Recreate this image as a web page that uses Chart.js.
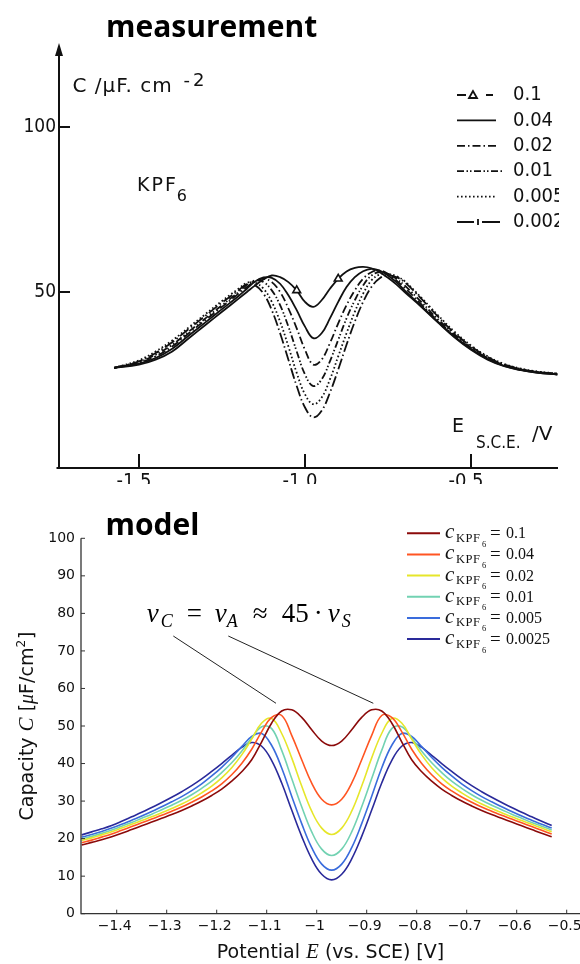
<!DOCTYPE html>
<html lang="en">
<head>
<meta charset="UTF-8">
<title>KPF6 capacity: measurement and model</title>
<script src="https://cdn.jsdelivr.net/npm/chart.js"></script>
<style>
  html, body { margin: 0; padding: 0; background: #fff; }
  canvas { display: block; }
</style>
</head>
<body>
<canvas id="measChart" width="580" height="484"></canvas>
<canvas id="modelChart" width="580" height="480"></canvas>

<script>
// ---------- measurement (scanned plot) ----------
const measPotential = [-1.575, -1.5, -1.45, -1.4, -1.35, -1.3, -1.25, -1.2, -1.175, -1.15, -1.125, -1.1, -1.075,
  -1.05, -1.025, -1.0, -0.975, -0.95, -0.925, -0.9, -0.875, -0.85, -0.825, -0.8, -0.775, -0.75, -0.725, -0.7,
  -0.65, -0.6, -0.55, -0.5, -0.45, -0.4, -0.35, -0.3, -0.24];
const meas01 = [27, 28, 29.5, 32, 36, 40, 44, 48, 50, 52, 53.8, 55, 54.5, 53, 50.5, 47, 45.5, 47.5, 51, 54, 56.2,
  57.3, 57.6, 57.2, 56, 54.3, 52.3, 50, 45.5, 40.8, 36.3, 32.5, 29.5, 27.5, 26.3, 25.5, 25];
const meas004 = [27, 28.3, 30, 32.8, 36.8, 40.8, 44.8, 48.8, 51, 53.2, 54.4, 54.3, 52.5, 49, 44.5, 39.5, 36, 37.5,
  42, 47, 51.5, 54.5, 56.3, 57, 56.5, 55, 53, 50.5, 45.8, 41, 36.5, 32.7, 29.7, 27.6, 26.4, 25.6, 25];
const meas002 = [27, 28.6, 30.5, 33.5, 37.5, 41.5, 45.5, 49.5, 51.5, 53.3, 54, 53, 50, 45, 39, 32.5, 28, 29.5,
  34.5, 40.5, 46, 50.5, 54, 56, 56.5, 55.5, 53.5, 51.3, 46.3, 41.3, 36.8, 32.9, 29.9, 27.8, 26.5, 25.7, 25.1];
const meas001 = [27, 28.8, 31, 34, 38, 42, 46, 50, 52.2, 53.5, 53, 50.5, 46, 39.5, 32, 25, 21.5, 23.5, 29, 35.5,
  42, 47.5, 52, 55, 56, 55.5, 54, 52, 47, 41.8, 37.2, 33.1, 30, 27.9, 26.6, 25.8, 25.2];
const meas0005 = [27, 29.3, 32, 35.3, 39.3, 43.3, 47.3, 51, 52.8, 52.8, 51, 47, 41, 33.5, 25.5, 19, 16, 18, 23.5,
  30.5, 37.5, 44, 49.5, 53.5, 55.3, 55.5, 54.8, 53.3, 48.3, 43, 38, 33.8, 30.5, 28.2, 26.8, 25.9, 25.3];
const meas0002 = [27, 29, 31.5, 34.8, 38.8, 42.8, 46.8, 50.5, 52.4, 52, 49.5, 44.5, 37.5, 29.5, 21.5, 15, 12, 14,
  19.5, 26.5, 34, 41, 47, 51.5, 54.2, 55, 54.5, 53, 48, 42.6, 37.6, 33.5, 30.3, 28, 26.7, 25.8, 25.2];
const measLabels = ['0.1', '0.04', '0.02', '0.01', '0.005', '0.002'];
const measTriangleAt = [-1.025, -0.9];   // where the 0.1 curve carries its triangle markers
const measXTicks = [-1.5, -1.0, -0.5];
const measXTickLabels = ['-1.5', '-1.0', '-0.5'];
const measYTicks = [50, 100];

// ---------- model ----------
const modelPotential = [-1.47, -1.45, -1.43, -1.41, -1.39, -1.37, -1.35, -1.33, -1.31, -1.29, -1.27, -1.25, -1.23,
  -1.21, -1.19, -1.17, -1.15, -1.13, -1.11, -1.09, -1.07, -1.05, -1.03, -1.01, -0.99, -0.97, -0.95, -0.93, -0.91,
  -0.89, -0.87, -0.85, -0.83, -0.81, -0.79, -0.77, -0.75, -0.73, -0.71, -0.69, -0.67, -0.65, -0.63, -0.61, -0.59,
  -0.57, -0.55, -0.53];
const model01 = [18.3, 19.0, 19.7, 20.5, 21.4, 22.4, 23.4, 24.4, 25.4, 26.4, 27.5, 28.7, 30.0, 31.5, 33.2, 35.3,
  37.8, 41.0, 45.8, 50.8, 54.0, 54.3, 52.3, 49.0, 46.0, 44.8, 46.0, 49.0, 52.3, 54.3, 54.0, 50.8, 45.8, 41.0, 37.8,
  35.3, 33.2, 31.5, 30.0, 28.7, 27.5, 26.4, 25.4, 24.4, 23.4, 22.4, 21.4, 20.5];
const model004 = [18.9, 19.6, 20.4, 21.2, 22.2, 23.2, 24.2, 25.2, 26.2, 27.3, 28.4, 29.7, 31.1, 32.7, 34.6, 37.0,
  40.0, 43.8, 48.5, 52.3, 52.8, 47.5, 41.0, 34.8, 30.5, 29.0, 30.5, 34.8, 41.0, 47.5, 52.8, 52.3, 48.5, 43.8, 40.0,
  37.0, 34.6, 32.7, 31.1, 29.7, 28.4, 27.3, 26.2, 25.2, 24.2, 23.2, 22.2, 21.2];
const model002 = [19.5, 20.2, 21.0, 21.8, 22.8, 23.8, 24.8, 25.8, 26.9, 28.0, 29.2, 30.6, 32.2, 34.0, 36.2, 38.9,
  42.3, 46.5, 50.8, 52.0, 48.0, 41.5, 34.0, 27.3, 22.8, 21.1, 22.8, 27.3, 34.0, 41.5, 48.0, 52.0, 50.8, 46.5, 42.3,
  38.9, 36.2, 34.0, 32.2, 30.6, 29.2, 28.0, 26.9, 25.8, 24.8, 23.8, 22.8, 21.8];
const model001 = [19.9, 20.6, 21.4, 22.3, 23.3, 24.3, 25.4, 26.5, 27.7, 28.9, 30.2, 31.7, 33.4, 35.3, 37.6, 40.2,
  43.3, 46.8, 49.8, 49.3, 43.5, 36.0, 28.5, 21.8, 17.2, 15.5, 17.2, 21.8, 28.5, 36.0, 43.5, 49.3, 49.8, 46.8, 43.3,
  40.2, 37.6, 35.3, 33.4, 31.7, 30.2, 28.9, 27.7, 26.5, 25.4, 24.3, 23.3, 22.3];
const model0005 = [20.4, 21.1, 21.9, 22.8, 23.8, 24.9, 26.0, 27.2, 28.5, 29.8, 31.2, 32.8, 34.6, 36.7, 39.0, 41.6,
  44.5, 47.2, 48.0, 44.8, 38.8, 31.3, 24.0, 17.6, 13.2, 11.6, 13.2, 17.6, 24.0, 31.3, 38.8, 44.8, 48.0, 47.2, 44.5,
  41.6, 39.0, 36.7, 34.6, 32.8, 31.2, 29.8, 28.5, 27.2, 26.0, 24.9, 23.8, 22.8];
const model00025 = [21.0, 21.8, 22.6, 23.5, 24.6, 25.8, 27.0, 28.3, 29.6, 31.0, 32.5, 34.1, 35.9, 37.9, 40.0, 42.2,
  44.3, 45.6, 44.6, 40.8, 34.8, 27.6, 20.6, 14.6, 10.5, 9.0, 10.5, 14.6, 20.6, 27.6, 34.8, 40.8, 44.6, 45.6, 44.3,
  42.2, 40.0, 37.9, 35.9, 34.1, 32.5, 31.0, 29.6, 28.3, 27.0, 25.8, 24.6, 23.5];
const modelLabels = ['0.1', '0.04', '0.02', '0.01', '0.005', '0.0025'];
const modelColors = ['#8b0a0a', '#ff5522', '#e6e62a', '#72d2b2', '#3a6cdc', '#2a2a9a'];
const modelXTicks = [-1.4, -1.3, -1.2, -1.1, -1.0, -0.9, -0.8, -0.7, -0.6, -0.5];
const modelXTickLabels = ['−1.4', '−1.3', '−1.2', '−1.1', '−1', '−0.9', '−0.8', '−0.7', '−0.6', '−0.5'];
const modelYTicks = [0, 10, 20, 30, 40, 50, 60, 70, 80, 90, 100];
// annotation: text anchor and the two pointer lines, in data units
const noteAnchor = [-1.34, 77.8];
const notePointers = [[[-1.2868, 73.97], [-1.0814, 56.05]], [[-1.1768, 73.97], [-0.8868, 56.05]]];

const SANS_N = "'Liberation Sans Narrow', 'DejaVu Sans Condensed', 'Liberation Sans', sans-serif";
const SANS = "'DejaVu Sans', sans-serif";
const SERIF = "'Liberation Serif', 'DejaVu Serif', serif";

function drawRun(ctx, x, y, pieces) {
  let cx = x;
  pieces.forEach(p => {
    ctx.font = p.f;
    ctx.fillText(p.t, cx + (p.dx || 0), y + (p.dy || 0));
    cx += ctx.measureText(p.t).width + (p.dx || 0);
  });
  return cx;
}
function runWidth(ctx, pieces) {
  let w = 0;
  pieces.forEach(p => { ctx.font = p.f; w += ctx.measureText(p.t).width + (p.dx || 0); });
  return w;
}

// ---------- measurement chart ----------
const measSeries = [meas01, meas004, meas002, meas001, meas0005, meas0002];
const measDash = [[], [], [8, 3, 1.5, 3], [7, 2.5, 1.5, 2, 1.5, 2.5], [1.6, 2.4], [11, 3, 1.5, 3]];

const measDecor = {
  id: 'measDecor',
  afterDraw(chart) {
    const { ctx, chartArea: a, scales: { x, y } } = chart;
    const ink = '#111';
    ctx.save();
    ctx.beginPath();
    ctx.rect(0, 0, a.right + 1, chart.height);
    ctx.clip();
    ctx.strokeStyle = ink;
    ctx.fillStyle = ink;
    ctx.lineWidth = 2;
    const ax = a.left + 1.5;

    // axes
    ctx.beginPath();
    ctx.moveTo(ax, a.bottom);
    ctx.lineTo(ax, a.top + 10);
    ctx.moveTo(a.left - 1, a.bottom);
    ctx.lineTo(a.right, a.bottom);
    ctx.stroke();
    ctx.beginPath();
    ctx.moveTo(ax, a.top);
    ctx.lineTo(ax - 4, a.top + 13);
    ctx.lineTo(ax + 4, a.top + 13);
    ctx.closePath();
    ctx.fill();

    // y ticks
    ctx.font = '19px ' + SANS_N;
    ctx.textAlign = 'right';
    ctx.textBaseline = 'middle';
    measYTicks.forEach(v => {
      const py = y.getPixelForValue(v);
      ctx.beginPath();
      ctx.moveTo(ax, py);
      ctx.lineTo(ax + 11, py);
      ctx.stroke();
      ctx.fillText(String(v), ax - 3, py);
    });

    // x ticks
    ctx.textAlign = 'center';
    ctx.textBaseline = 'top';
    ctx.font = '20px ' + SANS_N;
    measXTicks.forEach((v, i) => {
      const px = x.getPixelForValue(v);
      ctx.beginPath();
      ctx.moveTo(px, a.bottom);
      ctx.lineTo(px, a.bottom - 14);
      ctx.stroke();
      ctx.fillText(measXTickLabels[i], px - 5, a.bottom + 4);
    });

    // axis names
    ctx.textAlign = 'left';
    ctx.textBaseline = 'alphabetic';
    ctx.letterSpacing = '1px';
    ctx.font = '20px ' + SANS;
    ctx.fillText('C /μF. cm', a.left + 15, 92);
    ctx.letterSpacing = '3px';
    ctx.font = '18px ' + SANS;
    ctx.fillText('-2', a.left + 126, 86);
    ctx.letterSpacing = '0px';
    ctx.font = '19px ' + SANS;
    ctx.fillText('E', 452, 432);
    ctx.font = '17px ' + SANS_N;
    ctx.fillText('S.C.E.', 476, 448);
    ctx.font = '20px ' + SANS;
    ctx.fillText('/V', 532, 440);

    // salt label
    ctx.letterSpacing = '2px';
    ctx.font = '19px ' + SANS;
    ctx.fillText('KPF', 137, 191);
    const kw = ctx.measureText('KPF').width;
    ctx.letterSpacing = '0px';
    ctx.font = '16px ' + SANS;
    ctx.fillText('6', 137 + kw - 1, 201);

    // legend
    ctx.lineWidth = 1.8;
    ctx.font = '20px ' + SANS_N;
    ctx.textBaseline = 'middle';
    measLabels.forEach((lab, i) => {
      const ry = 95 + i * 25.4;
      const x0 = 457, x1 = 496;
      ctx.beginPath();
      if (i === 0) {
        ctx.setLineDash([]);
        ctx.moveTo(x0, ry); ctx.lineTo(x0 + 9, ry);
        ctx.moveTo(x1 - 10, ry); ctx.lineTo(x1 - 3, ry);
        ctx.stroke();
        ctx.beginPath();
        ctx.moveTo(x0 + 16, ry - 4); ctx.lineTo(x0 + 12, ry + 3); ctx.lineTo(x0 + 20, ry + 3); ctx.closePath();
        ctx.stroke();
      } else if (i === 5) {
        ctx.setLineDash([]);
        ctx.moveTo(x0, ry); ctx.lineTo(x0 + 17, ry);
        ctx.moveTo(x0 + 25, ry); ctx.lineTo(x1 + 4, ry);
        ctx.moveTo(x0 + 21, ry - 3); ctx.lineTo(x0 + 21, ry + 3);
        ctx.stroke();
      } else {
        ctx.setLineDash(measDash[i]);
        ctx.moveTo(x0, ry); ctx.lineTo(i === 3 ? x1 + 6 : x1, ry);
        ctx.stroke();
      }
      ctx.setLineDash([]);
      ctx.fillText(lab, 513, ry);
    });
    ctx.restore();

    // title sits above the scan
    ctx.save();
    ctx.fillStyle = '#000';
    ctx.font = "bold 30px 'Open Sans', 'DejaVu Sans', sans-serif";
    ctx.textBaseline = 'alphabetic';
    ctx.fillText('measurement', 106, 37);
    ctx.restore();
  }
};

new Chart(document.getElementById('measChart'), {
  type: 'line',
  data: {
    datasets: measSeries.map((s, i) => ({
      label: measLabels[i],
      data: measPotential.map((e, j) => ({ x: e, y: s[j] })),
      borderColor: '#111',
      borderWidth: 1.8,
      borderDash: measDash[i],
      tension: 0.4,
      fill: false,
      pointStyle: 'triangle',
      pointRadius: i === 0 ? measPotential.map(e => (measTriangleAt.includes(e) ? 4.5 : 0)) : 0,
      pointBackgroundColor: '#fff',
      pointBorderColor: '#111',
      pointBorderWidth: 1.6
    }))
  },
  options: {
    responsive: false,
    animation: false,
    layout: { padding: { left: 57.5, right: 22, top: 43, bottom: 16 } },
    scales: {
      x: { type: 'linear', min: -1.7455, max: -0.238, display: false },
      y: { type: 'linear', min: -3.33, max: 125.45, display: false }
    },
    plugins: { legend: { display: false }, tooltip: { enabled: false } }
  },
  plugins: [measDecor]
});

// ---------- model chart ----------
const modelSeries = [model01, model004, model002, model001, model0005, model00025];

const modelDecor = {
  id: 'modelDecor',
  afterDraw(chart) {
    const { ctx, chartArea: a, scales: { x, y } } = chart;
    ctx.save();
    ctx.strokeStyle = '#333';
    ctx.fillStyle = '#111';
    ctx.lineWidth = 1.3;

    // spines
    ctx.beginPath();
    ctx.moveTo(a.left, a.top);
    ctx.lineTo(a.left, a.bottom);
    ctx.lineTo(a.right, a.bottom);
    ctx.stroke();

    // ticks (inward) and labels
    ctx.lineWidth = 1;
    ctx.font = '14px ' + SANS;
    ctx.textAlign = 'center';
    ctx.textBaseline = 'top';
    modelXTicks.forEach((v, i) => {
      const px = x.getPixelForValue(v);
      ctx.beginPath();
      ctx.moveTo(px, a.bottom);
      ctx.lineTo(px, a.bottom - 4);
      ctx.stroke();
      ctx.fillText(modelXTickLabels[i], px - 2, a.bottom + 6);
    });
    ctx.textAlign = 'right';
    ctx.textBaseline = 'middle';
    modelYTicks.forEach(v => {
      const py = y.getPixelForValue(v);
      ctx.beginPath();
      ctx.moveTo(a.left, py);
      ctx.lineTo(a.left + 4, py);
      ctx.stroke();
      ctx.fillText(String(v), a.left - 6, py);
    });

    // axis titles
    ctx.textAlign = 'left';
    ctx.textBaseline = 'alphabetic';
    const xt = [
      { t: 'Potential ', f: '19px ' + SANS },
      { t: 'E', f: 'italic 21px ' + SERIF },
      { t: ' (vs. SCE) [V]', f: '19px ' + SANS }
    ];
    drawRun(ctx, (a.left + a.right) / 2 - runWidth(ctx, xt) / 2, 474, xt);
    const yt = [
      { t: 'Capacity ', f: '19px ' + SANS },
      { t: 'C', f: 'italic 21px ' + SERIF },
      { t: ' [', f: '19px ' + SANS },
      { t: 'μ', f: 'italic 20px ' + SERIF },
      { t: 'F/cm', f: '19px ' + SANS },
      { t: '2', f: '12px ' + SANS, dy: -8 },
      { t: ']', f: '19px ' + SANS, dx: 1 }
    ];
    ctx.save();
    ctx.translate(33, (a.top + a.bottom) / 2);
    ctx.rotate(-Math.PI / 2);
    drawRun(ctx, -runWidth(ctx, yt) / 2, 0, yt);
    ctx.restore();

    // annotation
    ctx.strokeStyle = '#222';
    ctx.lineWidth = 1;
    notePointers.forEach(([p0, p1]) => {
      ctx.beginPath();
      ctx.moveTo(x.getPixelForValue(p0[0]), y.getPixelForValue(p0[1]));
      ctx.lineTo(x.getPixelForValue(p1[0]), y.getPixelForValue(p1[1]));
      ctx.stroke();
    });
    const nx = x.getPixelForValue(noteAnchor[0]);
    const ny = y.getPixelForValue(noteAnchor[1]);
    const big = '27px ' + SERIF, bigI = 'italic 27px ' + SERIF, sub = 'italic 18px ' + SERIF;
    ctx.fillStyle = '#000';
    [
      { t: 'v', f: bigI, o: 0 }, { t: 'C', f: sub, o: 14, d: 5 }, { t: '=', f: big, o: 40 },
      { t: 'v', f: bigI, o: 68 }, { t: 'A', f: sub, o: 80, d: 5 }, { t: '≈', f: big, o: 106 },
      { t: '45', f: big, o: 135 }, { t: '·', f: big, o: 167 }, { t: 'v', f: bigI, o: 181 },
      { t: 'S', f: sub, o: 195, d: 5 }
    ].forEach(p => { ctx.font = p.f; ctx.fillText(p.t, nx + p.o, ny + (p.d || 0)); });

    // legend
    modelLabels.forEach((lab, i) => {
      const ry = 49.3 + i * 21.15;
      ctx.strokeStyle = modelColors[i];
      ctx.lineWidth = 2;
      ctx.beginPath();
      ctx.moveTo(407, ry);
      ctx.lineTo(440, ry);
      ctx.stroke();
      ctx.fillStyle = '#111';
      ctx.font = 'italic 21px ' + SERIF;
      ctx.fillText('c', 445, ry + 5);
      ctx.letterSpacing = '0.5px';
      ctx.font = '12.5px ' + SERIF;
      ctx.fillText('KPF', 456, ry + 8.5);
      ctx.letterSpacing = '0px';
      ctx.font = '8.5px ' + SERIF;
      ctx.fillText('6', 482, ry + 13.5);
      ctx.font = '19px ' + SERIF;
      ctx.fillText('=', 490, ry + 5.5);
      ctx.font = '16px ' + SERIF;
      ctx.fillText(lab, 506, ry + 5);
    });

    // title
    ctx.fillStyle = '#000';
    ctx.font = "bold 30px 'Open Sans', 'DejaVu Sans', sans-serif";
    ctx.fillText('model', 105.5, 51);
    ctx.restore();
  }
};

new Chart(document.getElementById('modelChart'), {
  type: 'line',
  data: {
    datasets: modelSeries.map((s, i) => ({
      label: 'c = ' + modelLabels[i],
      data: modelPotential.map((e, j) => ({ x: e, y: s[j] })),
      borderColor: modelColors[i],
      borderWidth: 1.6,
      tension: 0.4,
      fill: false,
      pointRadius: 0
    }))
  },
  options: {
    responsive: false,
    animation: false,
    layout: { padding: { left: 81, right: 0, top: 54.3, bottom: 50.3 } },
    scales: {
      x: { type: 'linear', min: -1.4714, max: -0.4734, display: false },
      y: { type: 'linear', min: 0, max: 100, display: false }
    },
    plugins: { legend: { display: false }, tooltip: { enabled: false } }
  },
  plugins: [modelDecor]
});
</script>
</body>
</html>
